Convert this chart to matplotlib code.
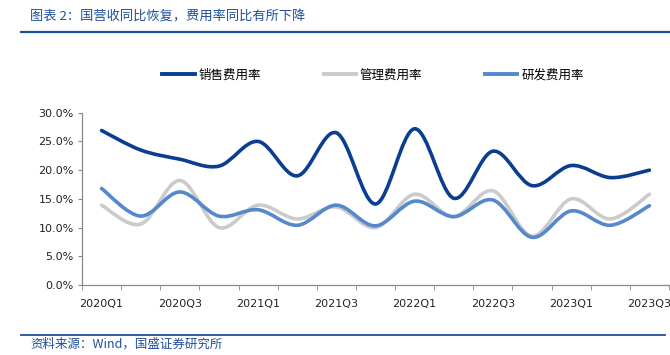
import numpy as np
import matplotlib
matplotlib.use("Agg")
import matplotlib.pyplot as plt
from matplotlib.path import Path
from matplotlib.patches import PathPatch
from matplotlib.lines import Line2D

plt.rcParams['font.family'] = ['Noto Sans CJK SC', 'DejaVu Sans']

quarters = ['2020Q1', '2020Q2', '2020Q3', '2020Q4',
            '2021Q1', '2021Q2', '2021Q3', '2021Q4',
            '2022Q1', '2022Q2', '2022Q3', '2022Q4',
            '2023Q1', '2023Q2', '2023Q3']
sales_rate = [26.9, 23.5, 21.9, 20.7, 25.0, 19.0, 26.5, 14.1, 27.2, 15.1, 23.3, 17.3, 20.8, 18.7, 20.0]
admin_rate = [13.9, 10.6, 18.2, 10.0, 13.9, 11.5, 13.6, 10.0, 15.8, 11.9, 16.4, 8.5, 15.0, 11.5, 15.8]
rd_rate = [16.8, 12.0, 16.2, 12.0, 13.1, 10.4, 13.9, 10.3, 14.6, 11.9, 14.8, 8.3, 12.9, 10.4, 13.8]
series_names = ['销售费用率', '管理费用率', '研发费用率']
y_ticks = [0, 5, 10, 15, 20, 25, 30]

colors = ['#0B3D91', '#CBCBCB', '#5688CC']
title_color = '#1F4E9A'

W, H = 670, 355
fig = plt.figure(figsize=(W / 100, H / 100), dpi=100)
ax = fig.add_axes([82 / W, 1 - 285 / H, 587 / W, (285 - 112.7) / H])


def smooth_path(xs, ys):
    pts = np.column_stack([xs, ys]).astype(float)
    n = len(pts)
    verts = [pts[0]]
    codes = [Path.MOVETO]
    for i in range(n - 1):
        p0 = pts[i - 1] if i > 0 else pts[i]
        p1 = pts[i]
        p2 = pts[i + 1]
        p3 = pts[i + 2] if i + 2 < n else pts[i + 1]
        c1 = p1 + (p2 - p0) / 6.0
        c2 = p2 - (p3 - p1) / 6.0
        verts += [c1, c2, p2]
        codes += [Path.CURVE4] * 3
    return Path(verts, codes)


x = np.arange(len(quarters))
for vals, col, z in [(admin_rate, colors[1], 2), (rd_rate, colors[2], 3), (sales_rate, colors[0], 4)]:
    patch = PathPatch(smooth_path(x, vals), facecolor='none', edgecolor=col,
                      lw=2.6, capstyle='round', joinstyle='round', zorder=z)
    ax.add_patch(patch)

ax.set_xlim(-0.5, len(quarters) - 0.5)
ax.set_ylim(0, 30)
ax.set_yticks(y_ticks)
ax.set_yticklabels([f'{v:.1f}%' for v in y_ticks], family='DejaVu Sans', fontsize=8, color='#222222')
ax.set_xticks(x[::2])
ax.set_xticklabels(quarters[::2], family='DejaVu Sans', fontsize=8, color='#222222')
ax.set_xticks(np.arange(-0.5, len(quarters) + 0.5, 1), minor=True)
ax.tick_params(axis='x', which='major', length=0, pad=10)
ax.tick_params(axis='x', which='minor', length=3.5, color='#888888', direction='out')
ax.tick_params(axis='y', length=3, color='#888888', direction='out', pad=3)
for s in ['top', 'right']:
    ax.spines[s].set_visible(False)
for s in ['left', 'bottom']:
    ax.spines[s].set_color('#888888')
    ax.spines[s].set_linewidth(0.9)

handles = [Line2D([], [], color=c, lw=2.8) for c in colors]
fig.legend(handles, series_names, loc='center', bbox_to_anchor=(373 / W, 1 - 75 / H),
           ncol=3, frameon=False, fontsize=9, handlelength=2.6, handletextpad=0.3,
           columnspacing=5.0)

fig.text(30 / W, 1 - 17 / H, '图表 2：国营收同比恢复，费用率同比有所下降', color=title_color,
         fontsize=9.5, va='center', ha='left')
fig.add_artist(Line2D([21 / W, 1.0], [1 - 32 / H, 1 - 32 / H], color=title_color, lw=1.6))
fig.add_artist(Line2D([21 / W, 665 / W], [1 - 335 / H, 1 - 335 / H], color=title_color, lw=1.3))
fig.text(30 / W, 1 - 344 / H, '资料来源：Wind，国盛证券研究所', color=title_color,
         fontsize=9, va='center', ha='left')

fig.savefig('out.png', dpi=100)
